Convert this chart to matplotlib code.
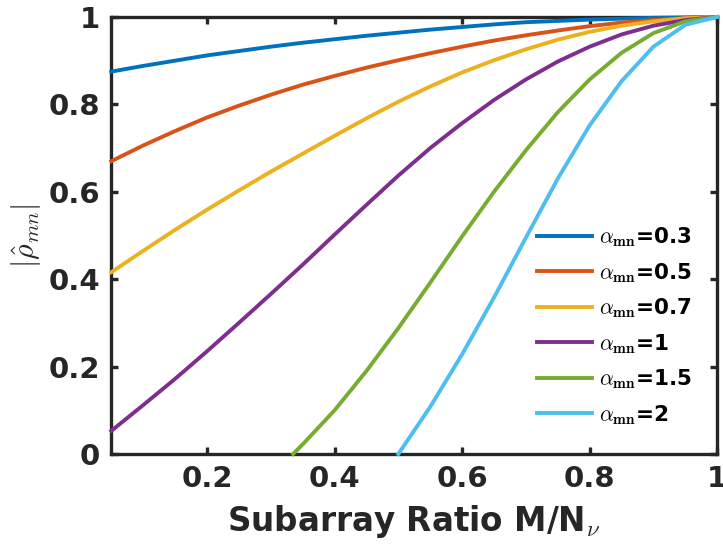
import matplotlib
matplotlib.use("Agg")
import matplotlib.pyplot as plt
from matplotlib.ticker import FuncFormatter

# sampled subarray ratios (step 0.05)
x_full = [0.05, 0.1, 0.15, 0.2, 0.25, 0.3, 0.35, 0.4, 0.45, 0.5,
          0.55, 0.6, 0.65, 0.7, 0.75, 0.8, 0.85, 0.9, 0.95, 1.0]

rho_03 = [0.875, 0.888, 0.900, 0.912, 0.922, 0.932, 0.941, 0.949, 0.957, 0.964,
          0.971, 0.977, 0.983, 0.988, 0.991, 0.994, 0.996, 0.998, 0.999, 1.0]
rho_05 = [0.670, 0.706, 0.739, 0.770, 0.797, 0.822, 0.845, 0.865, 0.884, 0.901,
          0.917, 0.932, 0.946, 0.958, 0.969, 0.979, 0.987, 0.993, 0.997, 1.0]
rho_07 = [0.416, 0.465, 0.513, 0.559, 0.603, 0.646, 0.687, 0.728, 0.768, 0.806,
          0.841, 0.873, 0.901, 0.926, 0.948, 0.966, 0.980, 0.990, 0.997, 1.0]
rho_1 = [0.053, 0.112, 0.172, 0.235, 0.300, 0.366, 0.433, 0.502, 0.570, 0.637,
         0.700, 0.757, 0.810, 0.857, 0.898, 0.932, 0.960, 0.980, 0.993, 1.0]

x_15 = [0.335, 0.35, 0.4, 0.45, 0.5, 0.55, 0.6, 0.65, 0.7, 0.75, 0.8, 0.85, 0.9, 0.95, 1.0]
rho_15 = [0.0, 0.022, 0.100, 0.190, 0.288, 0.392, 0.498, 0.600, 0.695, 0.782,
          0.857, 0.918, 0.963, 0.990, 1.0]

x_2 = [0.5, 0.55, 0.6, 0.65, 0.7, 0.75, 0.8, 0.85, 0.9, 0.95, 1.0]
rho_2 = [0.0, 0.108, 0.228, 0.358, 0.495, 0.630, 0.752, 0.853, 0.932, 0.982, 1.0]

series = [
    (x_full, rho_03, "0.3", "#0072BD"),
    (x_full, rho_05, "0.5", "#D95319"),
    (x_full, rho_07, "0.7", "#EDB120"),
    (x_full, rho_1, "1", "#7E2F8E"),
    (x_15, rho_15, "1.5", "#77AC30"),
    (x_2, rho_2, "2", "#4DBEEE"),
]

plt.rcParams["font.family"] = ["DejaVu Sans"]
plt.rcParams["font.weight"] = "bold"
plt.rcParams["mathtext.fontset"] = "cm"

AX_COLOR = "#262626"

fig = plt.figure(figsize=(7.23, 5.47), dpi=100)
ax = fig.add_axes([0.154, 0.170, 0.838, 0.799])

for xs, ys, a, c in series:
    ax.plot(xs, ys, color=c, linewidth=2.8, clip_on=False, zorder=3,
            label=r"$\alpha_{\mathbf{mn}}$=" + a)

ax.set_xlim(0.05, 1)
ax.set_ylim(0, 1)
ax.set_xticks([0.2, 0.4, 0.6, 0.8, 1.0])
ax.set_yticks([0, 0.2, 0.4, 0.6, 0.8, 1.0])
fmt = FuncFormatter(lambda v, p: "%g" % round(v, 2))
ax.xaxis.set_major_formatter(fmt)
ax.yaxis.set_major_formatter(fmt)

for s in ax.spines.values():
    s.set_linewidth(2.4)
    s.set_color(AX_COLOR)
    s.set_zorder(2)
ax.tick_params(direction="in", length=5, width=2.4, colors=AX_COLOR,
               labelsize=21, top=True, right=True)
ax.tick_params(axis="x", pad=8)
ax.tick_params(axis="y", pad=8)
for lab in ax.get_xticklabels() + ax.get_yticklabels():
    lab.set_fontweight("bold")

ax.set_xlabel(r"Subarray Ratio M/N$_{\nu}$", fontsize=23.5, fontweight="bold",
              color=AX_COLOR, labelpad=7)
ax.set_ylabel(r"$|\hat{\rho}_{mn}|$", fontsize=21.5, color=AX_COLOR, labelpad=4)

leg = ax.legend(loc="center left", bbox_to_anchor=(0.703, 0.293), frameon=False,
                fontsize=15.5, handlelength=2.55, handletextpad=0.3,
                labelspacing=0.55, borderpad=0, borderaxespad=0)
for t in leg.get_texts():
    t.set_fontweight("bold")

fig.savefig("out.png", dpi=100)
